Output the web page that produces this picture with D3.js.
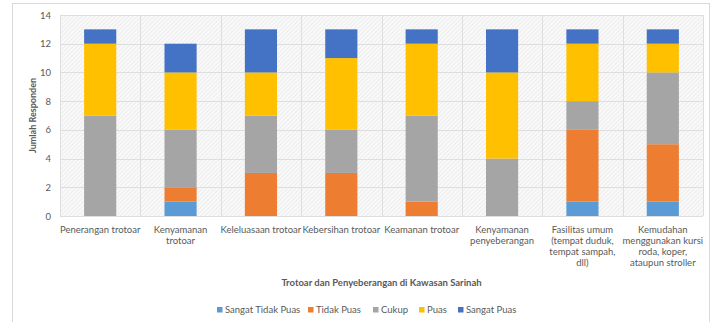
<!DOCTYPE html>
<html>
<head>
<meta charset="utf-8">
<style>
  body { margin: 0; background: #fff; }
  text { font-family: Lato, "Open Sans", sans-serif; }
</style>
</head>
<body>
<svg id="chart" width="719" height="322"></svg>
<script src="https://cdn.jsdelivr.net/npm/d3@7"></script>
<script>
// categories (x tick labels, already wrapped the way the picture shows them)
let categories = ["Penerangan trotoar", "Kenyamanan trotoar", "Keleluasaan trotoar",
  "Kebersihan trotoar", "Keamanan trotoar", "Kenyamanan penyeberangan",
  "Fasilitas umum (tempat duduk, tempat sampah, dll)",
  "Kemudahan menggunakan kursi roda, koper, ataupun stroller"]
let tickLines = [
  ["Penerangan trotoar"],
  ["Kenyamanan", "trotoar"],
  ["Keleluasaan trotoar"],
  ["Kebersihan trotoar"],
  ["Keamanan trotoar"],
  ["Kenyamanan", "penyeberangan"],
  ["Fasilitas umum", "(tempat duduk,", "tempat sampah,", "dll)"],
  ["Kemudahan", "menggunakan kursi", "roda, koper,", "ataupun stroller"]
]
let seriesNames = ["Sangat Tidak Puas", "Tidak Puas", "Cukup", "Puas", "Sangat Puas"]
let sangatTidakPuas = [0, 1, 0, 0, 0, 0, 1, 1]
let tidakPuas       = [0, 1, 3, 3, 1, 0, 5, 4]
let cukup           = [7, 4, 4, 3, 6, 4, 2, 5]
let puas            = [5, 4, 3, 5, 5, 6, 4, 2]
let sangatPuas      = [1, 2, 3, 2, 1, 3, 1, 1]
let yTicks = [0, 2, 4, 6, 8, 10, 12, 14]
let colors = ["#5B9BD5", "#ED7D31", "#A5A5A5", "#FFC000", "#4472C4"]

let svg = d3.select("#chart")

// outer chart frame
svg.append("rect").attr("x", 12.5).attr("y", 3.5).attr("width", 697).attr("height", 330)
  .attr("fill", "#fff").attr("stroke", "#d9d9d9")

// light diagonal hatch behind the plot
let pat = svg.append("defs").append("pattern")
  .attr("id", "hatch").attr("width", 3).attr("height", 3)
  .attr("patternUnits", "userSpaceOnUse").attr("patternTransform", "rotate(45)")
pat.append("rect").attr("width", 3).attr("height", 3).attr("fill", "#f9f9f9")
pat.append("line").attr("x1", 0).attr("y1", 0).attr("x2", 0).attr("y2", 3)
  .attr("stroke", "#e6e6e6").attr("stroke-width", 1.2)

let plotLeft = 60, plotRight = 703, plotTop = 15, plotBottom = 216

let x = d3.scaleBand().domain(categories).range([plotLeft, plotRight])
  .paddingInner(0.6).paddingOuter(0.3)
let y = d3.scaleLinear().domain([0, 14]).range([plotBottom, plotTop])

svg.append("rect").attr("x", plotLeft).attr("y", plotTop)
  .attr("width", plotRight - plotLeft).attr("height", plotBottom - plotTop).attr("fill", "url(#hatch)")

// gridlines
svg.append("g").selectAll("line").data(yTicks).join("line")
  .attr("x1", plotLeft).attr("x2", plotRight)
  .attr("y1", d => Math.round(y(d)) + 0.5).attr("y2", d => Math.round(y(d)) + 0.5)
  .attr("stroke", "#dedede")
let step = x.step()
svg.append("g").selectAll("line").data(d3.range(categories.length + 1)).join("line")
  .attr("x1", i => Math.round(plotLeft + i * step) + 0.5).attr("x2", i => Math.round(plotLeft + i * step) + 0.5)
  .attr("y1", plotTop).attr("y2", plotBottom)
  .attr("stroke", "#dedede")

// stacked bars
let rows = categories.map((c, i) => ({
  cat: c,
  s0: sangatTidakPuas[i], s1: tidakPuas[i], s2: cukup[i], s3: puas[i], s4: sangatPuas[i]
}))
let stack = d3.stack().keys(["s0", "s1", "s2", "s3", "s4"])(rows)

svg.append("g").selectAll("g").data(stack).join("g")
  .attr("fill", (d, i) => colors[i])
  .selectAll("rect").data(d => d).join("rect")
  .attr("x", d => x(d.data.cat))
  .attr("width", x.bandwidth())
  .attr("y", d => y(d[1]))
  .attr("height", d => y(d[0]) - y(d[1]))

// y axis
let yAxis = d3.axisLeft(y).tickValues(yTicks).tickSize(0).tickPadding(8)
let yg = svg.append("g").attr("transform", "translate(" + (plotLeft - 1) + ",0)").call(yAxis)
yg.select(".domain").remove()
yg.selectAll("text").attr("fill", "#595959").style("font-size", "9.5px")
  .style("font-family", "Lato, sans-serif")

// x axis with multi line labels
let xAxis = d3.axisBottom(x).tickSize(0).tickFormat("")
let xg = svg.append("g").attr("transform", "translate(0," + plotBottom + ")").call(xAxis)
xg.select(".domain").remove()
xg.selectAll(".tick").each(function(d, i) {
  let t = d3.select(this).append("text")
    .attr("fill", "#595959").attr("text-anchor", "middle")
    .style("font-size", "9.5px").style("font-family", "Lato, sans-serif")
  tickLines[i].forEach((line, k) => {
    t.append("tspan").attr("x", 0).attr("y", 17 + k * 11).text(line)
  })
})

// axis titles
svg.append("text")
  .attr("transform", "translate(36," + ((plotTop + plotBottom) / 2) + ") rotate(-90)")
  .attr("text-anchor", "middle").attr("fill", "#595959")
  .style("font-size", "9px").style("font-weight", "bold")
  .text("Jumlah Responden")

svg.append("text")
  .attr("x", (plotLeft + plotRight) / 2).attr("y", 286)
  .attr("text-anchor", "middle").attr("fill", "#595959")
  .style("font-size", "9.5px").style("font-weight", "bold")
  .text("Trotoar dan Penyeberangan di Kawasan Sarinah")

// legend
let legendX = [217, 308, 373, 419, 458]
let lg = svg.append("g").selectAll("g").data(seriesNames).join("g")
  .attr("transform", (d, i) => "translate(" + legendX[i] + ",310)")
lg.append("rect").attr("x", 0).attr("y", -3).attr("width", 5.5).attr("height", 5.5)
  .attr("fill", (d, i) => colors[i])
lg.append("text").attr("x", 8).attr("y", 3.3).attr("fill", "#595959")
  .style("font-size", "9.5px").text(d => d)
</script>
</body>
</html>
